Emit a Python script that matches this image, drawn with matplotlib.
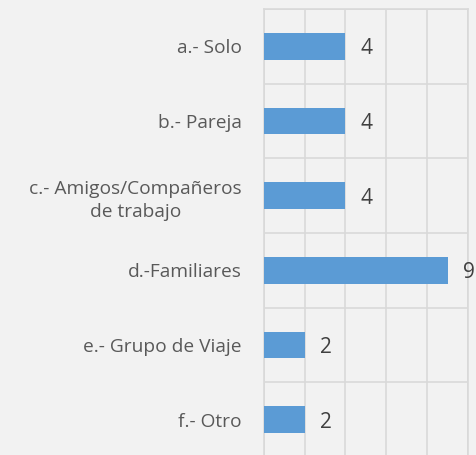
import matplotlib
matplotlib.use("Agg")
import matplotlib.pyplot as plt
import numpy as np

categories = ["a.- Solo", "b.- Pareja", "c.- Amigos/Compañeros\nde trabajo",
              "d.-Familiares", "e.- Grupo de Viaje", "f.- Otro"]
values = [4, 4, 4, 9, 2, 2]

bg = "#f2f2f2"
grid_c = "#d9d9d9"
fig = plt.figure(figsize=(4.77, 4.55), dpi=100, facecolor=bg)
ax = fig.add_axes([263.7/477, 1-457/455, (468-263.7)/477, (457-9)/455])
ax.set_facecolor(bg)

y = np.arange(len(categories))
ax.barh(y, values, height=0.36, color="#5b9bd5", zorder=3)
ax.set_xlim(0, 10)
ax.set_ylim(len(categories)-0.5, -0.5)
ax.set_xticks(np.arange(0, 11, 2))
ax.set_xticklabels([])
ax.tick_params(axis="x", length=0)
ax.set_yticks(y)
ax.set_yticklabels(categories, fontsize=13.8, color="#595959", family="Open Sans",
                   multialignment="center", linespacing=1.4)
ax.set_yticks(np.arange(-0.5, len(categories), 1), minor=True)
ax.tick_params(axis="y", which="both", length=0, pad=16)
ax.grid(True, axis="x", color=grid_c, linewidth=1.2, zorder=0)
ax.grid(True, axis="y", which="minor", color=grid_c, linewidth=1.2, zorder=0)
ax.grid(False, axis="y", which="major")
for s in ax.spines.values():
    s.set_color(grid_c)
    s.set_linewidth(1.2)
for yi, v in zip(y, values):
    ax.annotate(str(v), (v, yi), xytext=(11, 0), textcoords="offset points",
                va="center_baseline", ha="left", fontsize=15, color="#404040",
                family="Open Sans", annotation_clip=False)

fig.savefig("out.png", dpi=100, facecolor=bg)
